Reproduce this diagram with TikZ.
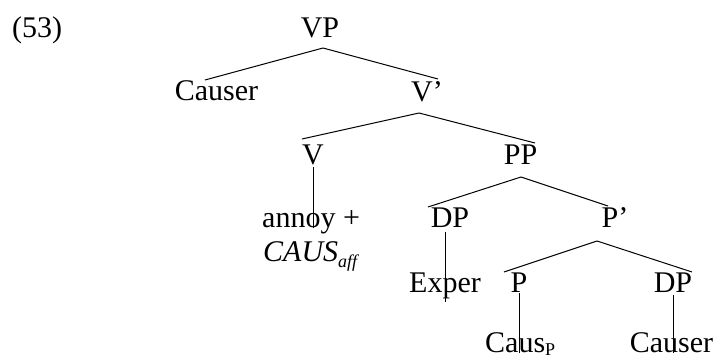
\documentclass[tikz,border=0pt]{standalone}
\usepackage{fontspec}
\setmainfont{Liberation Serif}
\usepackage{tikz}
\usetikzlibrary{calc}
\definecolor{ink}{HTML}{000000}
\tikzset{
  branch/.style={draw=ink, line width=1pt},
  lab/.style={text=ink, inner sep=0pt, anchor=base, font=\fontsize{30}{36}\selectfont},
  labw/.style={lab, anchor=base west},
}
% lowered small index after a label
\newcommand{\lowidx}[2]{\raisebox{-#1}{\fontsize{18}{20}\selectfont #2}}

\begin{document}
\begin{tikzpicture}[x=1pt,y=1pt]
  \useasboundingbox (0,0) rectangle (718,361);
  % example number
  \node[labw] (num) at (12,323) {(53)};
  % tree labels
  \node[lab] (vp) at (320,323) {VP};
  \node[lab] (causer) at (216.5,260) {Causer};
  \node[lab] (vbar) at (427,259) {V’};
  \node[lab] (v) at (313,196) {V};
  \node[lab] (pp) at (520.5,196) {PP};
  \node[labw] (annoy) at (262,133) {annoy +};
  \node[labw] (causaff) at (263,99) {\textit{CAUS}\lowidx{6pt}{\itshape aff}};
  \node[lab] (dp) at (450,133) {DP};
  \node[lab] (pbar) at (615,133) {P’};
  \node[lab] (exper) at (445,68) {Exper};
  \node[lab] (p) at (519,68) {P};
  \node[lab] (dpb) at (673,68) {DP};
  \node[labw] (causp) at (485,8) {Caus\lowidx{3pt}{P}};
  \node[lab] (causerb) at (671.5,8) {Causer};
  % branches
  \draw[branch] ([shift={(3,-10)}]vp.base) -- ([shift={(-11.5,21)}]causer.base);
  \draw[branch] ([shift={(3,-10)}]vp.base) -- ([shift={(11,23)}]vbar.base);
  \draw[branch] ([shift={(-8,-11)}]vbar.base) -- ([shift={(-11,26)}]v.base);
  \draw[branch] ([shift={(-8,-11)}]vbar.base) -- ([shift={(14.5,22)}]pp.base);
  \draw[branch] ([shift={(0,-2)}]v.base) -- (v.base |- annoy.base);
  \draw[branch] ([shift={(0.5,-12)}]pp.base) -- ([shift={(-22,21)}]dp.base);
  \draw[branch] ([shift={(0.5,-12)}]pp.base) -- ([shift={(-7,22)}]pbar.base);
  \draw[branch] ([shift={(-5,-4)}]dp.base) -- ([shift={(0,-9)}]exper.base);
  \draw[branch] ([shift={(-18,-13)}]pbar.base) -- ([shift={(-15,21)}]p.base);
  \draw[branch] ([shift={(-18,-13)}]pbar.base) -- ([shift={(19,21)}]dpb.base);
  \draw[branch] (p.base) -- (p.base |- causp.base);
  \draw[branch] ([shift={(0,-2)}]dpb.base) -- (dpb.base |- causerb.base);
\end{tikzpicture}
\end{document}
